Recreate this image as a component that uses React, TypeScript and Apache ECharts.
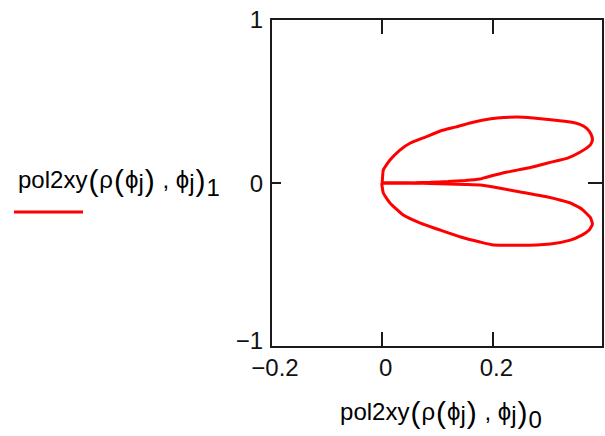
import React, { useEffect, useRef } from "react";
import * as echarts from "echarts";

// Values (upper lobe: origin -> outer branch -> tip -> inner branch -> origin)
const upperLobeX = [0, 0.001, 0.003, 0.015, 0.033, 0.052, 0.079, 0.106, 0.133, 0.16, 0.184, 0.209, 0.245, 0.274, 0.31, 0.341, 0.358, 0.37, 0.378, 0.381, 0.377, 0.359, 0.336, 0.3, 0.264, 0.227, 0.191, 0.178, 0.151, 0.12, 0.088, 0.061, 0.033, 0];
const upperLobeY = [0, 0.006, 0.079, 0.14, 0.201, 0.244, 0.28, 0.317, 0.341, 0.366, 0.384, 0.396, 0.402, 0.396, 0.384, 0.372, 0.358, 0.335, 0.3, 0.262, 0.232, 0.189, 0.152, 0.122, 0.091, 0.067, 0.037, 0.024, 0.015, 0.009, 0.004, 0.001, 0, 0];
const lowerLobeX = [0, 0.003, 0.015, 0.039, 0.07, 0.106, 0.143, 0.178, 0.202, 0.251, 0.305, 0.341, 0.362, 0.375, 0.381, 0.377, 0.362, 0.341, 0.3, 0.251, 0.202, 0.178, 0.151, 0.12, 0.088, 0.061, 0.033, 0];
const lowerLobeY = [0, -0.061, -0.122, -0.195, -0.244, -0.287, -0.329, -0.36, -0.378, -0.38, -0.372, -0.348, -0.318, -0.287, -0.25, -0.21, -0.16, -0.122, -0.085, -0.055, -0.024, -0.012, -0.009, -0.006, -0.003, -0.001, 0, 0];

const xRange = [-0.2, 0.4];
const xStep = 0.2;
const yRange = [-1, 1];
const yStep = 1;

const titleX = "{n|pol2xy}{p|(}{n|ρ}{p|(}{n|ϕ}{j|j}{p|)}{n| , ϕ}{j|j}{p|)}{s|0}";
const titleY = "{n|pol2xy}{p|(}{n|ρ}{p|(}{n|ϕ}{j|j}{p|)}{n| , ϕ}{j|j}{p|)}{s|1}";

const FONT = "'Liberation Sans', Arial, sans-serif";
const richStyles = {
  n: { fontSize: 24, fontFamily: FONT, color: "#111", verticalAlign: "top" },
  j: { fontSize: 24, fontFamily: FONT, color: "#111", verticalAlign: "top", padding: [3, 0, 0, 0] },
  s: { fontSize: 24, fontFamily: FONT, color: "#111", verticalAlign: "top", padding: [8, 0, 0, 0] },
  p: { fontSize: 30, fontFamily: FONT, color: "#a8a8a8", verticalAlign: "top", padding: [-2, 1, 0, 1] },
};

const fmt = (v: number) => {
  const r = Math.round(v * 10) / 10;
  return r < 0 ? "\u2212" + String(Math.abs(r)) : String(r);
};
const fmtY = (v: number) => (v <= yRange[0] ? "{lo|" + fmt(v) + "}" : fmt(v));

export default function App() {
  const ref = useRef<HTMLDivElement>(null);
  useEffect(() => {
    if (!ref.current) return;
    const chart = echarts.init(ref.current, null, { renderer: "svg" });
    const upper = upperLobeX.map((x, i) => [x, upperLobeY[i]]);
    const lower = lowerLobeX.map((x, i) => [x, lowerLobeY[i]]);
    const axisLine = { show: true, onZero: false, lineStyle: { color: "#1a1a1a", width: 2 } };
    const label = { fontSize: 24, fontFamily: FONT, color: "#111" };
    chart.setOption({
      animation: false,
      backgroundColor: "#fff",
      grid: { left: 271, right: 2, top: 19, bottom: 89, containLabel: false },
      xAxis: [
        {
          type: "value", min: xRange[0], max: xRange[1], interval: xStep, position: "bottom",
          axisLine, splitLine: { show: false },
          axisTick: { show: true, inside: true, length: 15, lineStyle: { color: "#1a1a1a", width: 2 } },
          axisLabel: { ...label, margin: 8, formatter: fmt, showMaxLabel: false, padding: [0, 0, 0, 8] },
        },
        {
          type: "value", min: xRange[0], max: xRange[1], interval: xStep, position: "top",
          axisLine, splitLine: { show: false },
          axisTick: { show: true, inside: true, length: 15, lineStyle: { color: "#1a1a1a", width: 2 } },
          axisLabel: { show: false },
        },
      ],
      yAxis: [
        {
          type: "value", min: yRange[0], max: yRange[1], interval: yStep, position: "left",
          axisLine, splitLine: { show: false },
          axisTick: { show: true, inside: true, length: 10, lineStyle: { color: "#1a1a1a", width: 2 } },
          axisLabel: {
            ...label, margin: 8, formatter: fmtY,
            rich: { lo: { fontSize: 24, fontFamily: FONT, color: "#111", padding: [0, 0, 14, 0] } },
          },
        },
        {
          type: "value", min: yRange[0], max: yRange[1], interval: yStep, position: "right",
          axisLine, splitLine: { show: false },
          axisTick: { show: true, inside: true, length: 15, lineStyle: { color: "#1a1a1a", width: 2 } },
          axisLabel: { show: false },
        },
      ],
      series: [
        {
          type: "line", data: upper, showSymbol: false, smooth: 0.15, clip: false,
          lineStyle: { color: "#ff0000", width: 3 }, z: 5,
        },
        {
          type: "line", data: lower, showSymbol: false, smooth: 0.15, clip: false,
          lineStyle: { color: "#ff0000", width: 3 }, z: 5,
        },
      ],
      graphic: [
        {
          type: "text", x: 441, y: 399,
          style: { text: titleX, rich: richStyles, align: "center", verticalAlign: "top" },
        },
        {
          type: "text", x: 18, y: 167,
          style: { text: titleY, rich: richStyles, align: "left", verticalAlign: "top" },
        },
        {
          type: "line", shape: { x1: 14, y1: 212, x2: 83, y2: 212 },
          style: { stroke: "#ff0000", lineWidth: 3 },
        },
      ],
    });
    return () => chart.dispose();
  }, []);
  return (
    <div
      ref={ref}
      style={{ position: "fixed", left: 0, top: 0, width: 605, height: 436, background: "#fff" }}
    />
  );
}
